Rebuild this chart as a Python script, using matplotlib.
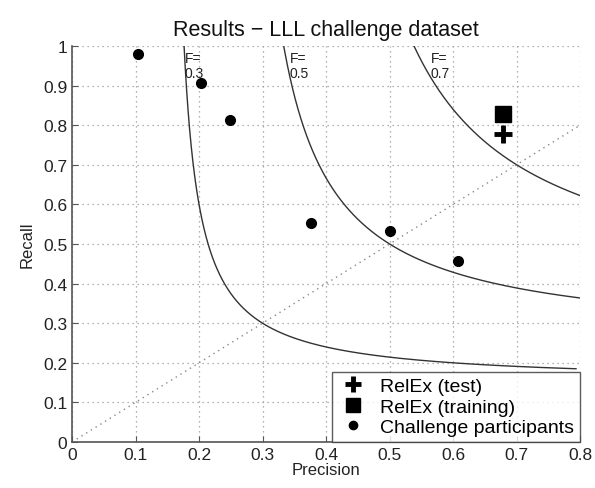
import numpy as np
import matplotlib
matplotlib.use("Agg")
import matplotlib.pyplot as plt

plt.rcParams['font.family'] = ['Liberation Sans', 'DejaVu Sans']

# Data
participants_precision = [0.104, 0.203, 0.249, 0.377, 0.500, 0.608]
participants_recall = [0.980, 0.906, 0.813, 0.553, 0.533, 0.458]
relex_test = (0.679, 0.778)
relex_train = (0.679, 0.828)
f_levels = [0.3, 0.5, 0.7]
f_label_pos = [(0.177, 0.987), (0.343, 0.987), (0.565, 0.987)]
xticks = [0, 0.1, 0.2, 0.3, 0.4, 0.5, 0.6, 0.7, 0.8]
yticks = [0, 0.1, 0.2, 0.3, 0.4, 0.5, 0.6, 0.7, 0.8, 0.9, 1]

fig = plt.figure(figsize=(5.95, 4.89), dpi=100)
ax = fig.add_axes([0.121, 0.094, 0.854, 0.810])

# iso-F curves
for F in f_levels:
    r = np.linspace(F / 2 + 1e-4, 1.0, 2000)
    p = F * r / (2 * r - F)
    m = (p <= 0.8) & (p >= 0)
    ax.plot(p[m], r[m], color='#333333', lw=1.0, zorder=2)

# diagonal
ax.plot([0, 0.8], [0, 0.8], color='#888888', lw=1.0, ls=(0, (1, 3)), zorder=2)

for F, (lx, ly) in zip(f_levels, f_label_pos):
    ax.text(lx, ly, f"F=\n{F}", fontsize=10, va='top', ha='left', color='#222222',
            linespacing=1.1)

ax.plot(*relex_test, marker='+', ls='none', color='black', markersize=13,
        markeredgewidth=3.5, label='RelEx (test)', zorder=3)
ax.plot(*relex_train, marker='s', ls='none', color='black', markersize=12,
        label='RelEx (training)', zorder=3)
ax.plot(participants_precision, participants_recall, marker='o', ls='none',
        color='black', markersize=7, label='Challenge participants', zorder=3)

ax.set_xlim(0, 0.8)
ax.set_ylim(0, 1)
ax.set_xticks(xticks)
ax.set_yticks(yticks)
ax.set_xticklabels(['0', '0.1', '0.2', '0.3', '0.4', '0.5', '0.6', '0.7', '0.8'])
ax.set_yticklabels(['0', '0.1', '0.2', '0.3', '0.4', '0.5', '0.6', '0.7', '0.8', '0.9', '1'])
ax.tick_params(direction='in', length=4, labelsize=12.5, colors='#555555',
               labelcolor='#222222')
ax.grid(True, color='#999999', ls=(0, (1, 3)), lw=0.9)
for s in ['top', 'right']:
    ax.spines[s].set_visible(False)
for s in ['left', 'bottom']:
    ax.spines[s].set_color('#555555')
    ax.spines[s].set_linewidth(1.2)

ax.set_xlabel('Precision', fontsize=12, labelpad=0, color='#222222')
ax.set_ylabel('Recall', fontsize=12, labelpad=6, color='#222222')
ax.set_title('Results \u2212 LLL challenge dataset', fontsize=15.5, pad=8, color='#111111')

leg = ax.legend(loc='lower right', fontsize=14, frameon=True, fancybox=False,
                borderaxespad=0, handletextpad=0.6, labelspacing=0.15,
                borderpad=0.3, handlelength=1.6, markerscale=0.85)
leg.get_frame().set_edgecolor('#333333')
leg.get_frame().set_linewidth(1.0)

fig.savefig('out.png', dpi=100)
